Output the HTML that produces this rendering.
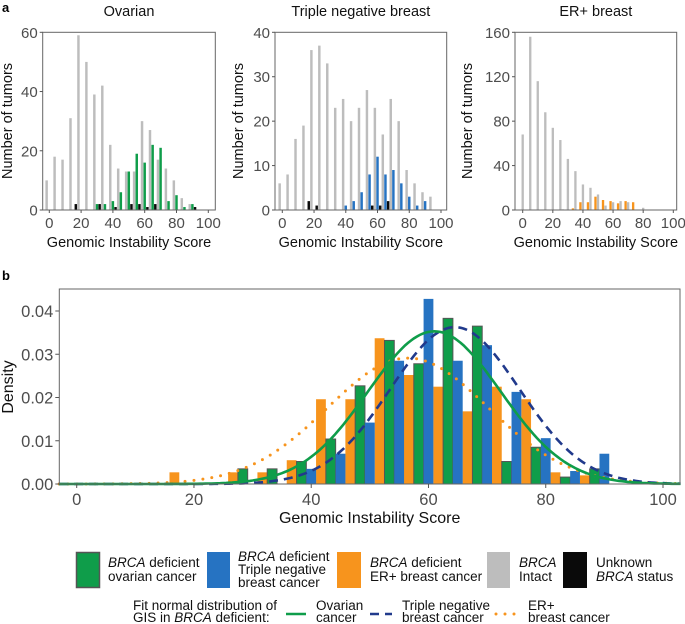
<!DOCTYPE html>
<html><head><meta charset="utf-8">
<style>
html,body{margin:0;padding:0;background:#fff;}
svg{display:block;font-family:"Liberation Sans",Arial,sans-serif;}
</style></head>
<body>
<svg id="fig" width="685" height="624" viewBox="0 0 685 624" xmlns="http://www.w3.org/2000/svg"></svg>
<script>
// ---- Panel a data (bins of 5 GIS, centers 0,5,...,95) ----
const binCenters = [0,5,10,15,20,25,30,35,40,45,50,55,60,65,70,75,80,85,90,95];
const ovGray  = [10,18,17,31,59,50,39,42,22,14,13,13,30,27,17,14,10,4,2,0];
const ovGreen = [0,0,0,0,0,0,2,2,3,6,13,19,16,22,21,3,5,1,2,0];
const ovBlack = [0,0,0,2,0,0,2,0,1,0,2,2,1,2,0,0,0,0,1,0];
const tnGray  = [6,8,16,19,36,37,33,23,25,20,23,27,23,17,25,20,9,6,4,3];
const tnBlue  = [0,0,0,0,0,0,0,0,1,2,4,8,12,8,9,6,3,1,2,0];
const tnBlack = [0,0,0,2,1,0,0,0,0,0,0,1,1,2,0,0,0,0,0,0];
const erGray  = [68,156,116,88,74,63,46,35,23,20,14,4,7,8,7,0,2,0,0,0];
const erOrange= [0,0,0,0,0,0,0,1.5,7,7,12,9,8,6,8,7,0,0,0,0];
const erBlack = [0,0,0,0,0,0.5,0,0,0,0,0,0,0,0,0,0,0,0,0,0];
const xTicksA = [0,20,40,60,80,100];
const ovYTicks = [0,20,40,60];
const tnYTicks = [0,10,20,30,40];
const erYTicks = [0,40,80,120,160];
// ---- Panel b data (density, groups starting at bin index 3) ----
const bBins   = [3,4,5,6,7,8,9,10,11,12,13,14,15,16,17];
const bOrange = [0.0027,0,0.0027,0.0027,0.0055,0.0196,0.0196,0.0337,0.0252,0.0225,0.0168,0.0225,0.0196,0.0027,0.002];
const bGreen  = [0,0,0.0035,0.0035,0.0052,0.0104,0.0227,0.0332,0.0278,0.0383,0.0365,0.0052,0.0085,0.0016,0.0035];
const bBlue   = [0,0,0,0,0.0035,0.007,0.0142,0.0285,0.0428,0.0285,0.0321,0.0213,0.0106,0.003,0.007];
const fitMeans = [61, 64.5, 56.5];
const fitSDs   = [11.3, 11.0, 13.7];
const xTicksB = [0,20,40,60,80,100];
const yTicksB = [0,0.01,0.02,0.03,0.04];

const NS="http://www.w3.org/2000/svg";
const svg=document.getElementById('fig');
function el(tag,attrs,parent){const e=document.createElementNS(NS,tag);for(const k in attrs)e.setAttribute(k,attrs[k]);(parent||svg).appendChild(e);return e;}
function txt(s,attrs,parent){const t=el('text',attrs,parent);t.textContent=s;return t;}
const C={green:'#0f9d4a',blue:'#2673c2',orange:'#f7941d',gray:'#bdbdbd',black:'#0a0a0a',navy:'#213a8c'};

function panelA(p){
  const g=el('g',{});
  
  
  const xs=v=>p.x0+(v/100)*(p.x100-p.x0);
  const ys=v=>p.bottom-(v/p.ymax)*(p.bottom-p.top);
  const bw=1.55*(p.x100-p.x0)/100;
  p.series.forEach(s=>{
    s.values.forEach((v,i)=>{
      if(v<=0)return;
      const cx=xs(binCenters[i]+s.off);
      const r=el('rect',{x:cx-bw/2,y:ys(v),width:bw,height:ys(0)-ys(v),fill:s.color},g);
      
      
    });
  });
  const fr=el('rect',{x:p.left,y:p.top,width:p.right-p.left,height:p.bottom-p.top,fill:'none',stroke:'#666','stroke-width':1},g);
  
  
  xTicksA.forEach(t=>{
    el('line',{x1:xs(t),x2:xs(t),y1:p.bottom,y2:p.bottom+3,stroke:'#555'},g);
    const l=txt(t,{x:xs(t),y:p.bottom+18,'font-size':15,fill:'#4d4d4d','text-anchor':'middle'},g);
    
    
  });
  p.yticks.forEach(t=>{
    el('line',{x1:p.left-3,x2:p.left,y1:ys(t),y2:ys(t),stroke:'#555'},g);
    const l=txt(t,{x:p.left-5,y:ys(t)+5.5,'font-size':15,fill:'#4d4d4d','text-anchor':'end'},g);
    
    
  });
  const ti=txt(p.title,{x:(p.left+p.right)/2,y:16,'font-size':14.5,fill:'#111','text-anchor':'middle'},g);
  
  
  const xt=txt('Genomic Instability Score',{x:(p.left+p.right)/2,y:247,'font-size':14.5,fill:'#111','text-anchor':'middle'},g);
  
  
  const yt=txt('Number of tumors',{x:0,y:0,'font-size':14.5,fill:'#111','text-anchor':'middle',transform:`translate(${p.ylx},121) rotate(-90)`},g);
  
  
}
const a=txt('a',{x:2,y:12,'font-size':13,'font-weight':'bold',fill:'#000'});


panelA({name:'ovarian-panel',title:'Ovarian',left:42.7,right:215.3,top:32.3,bottom:210,x0:49.3,x100:208.3,ymax:60,yticks:ovYTicks,ylx:12,
  series:[{name:'brca-intact',values:ovGray,color:C.gray,off:-1.67},{name:'ovarian-deficient',values:ovGreen,color:C.green,off:0},{name:'unknown-status',values:ovBlack,color:C.black,off:1.67}]});
panelA({name:'tnbc-panel',title:'Triple negative breast',left:275,right:446.7,top:32.3,bottom:210,x0:282.3,x100:441,ymax:40,yticks:tnYTicks,ylx:243,
  series:[{name:'brca-intact',values:tnGray,color:C.gray,off:-1.67},{name:'tnbc-deficient',values:tnBlue,color:C.blue,off:0},{name:'unknown-status',values:tnBlack,color:C.black,off:1.67}]});
panelA({name:'er-panel',title:'ER+ breast',left:515,right:676.7,top:32.3,bottom:210,x0:522.7,x100:673.3,ymax:160,yticks:erYTicks,ylx:472,
  series:[{name:'er-deficient',values:erOrange,color:C.orange,off:-1.67},{name:'brca-intact',values:erGray,color:C.gray,off:0},{name:'unknown-status',values:erBlack,color:C.black,off:1.67}]});

// ---- Panel b ----
const B={left:59.3,right:680,top:289,bottom:484,x0:76.7,x100:663,ymax:0.04,y4:311};
const bx=v=>B.x0+(v/100)*(B.x100-B.x0);
const by=v=>B.bottom-(v/B.ymax)*(B.bottom-B.y4);
const gb=el('g',{});


const bwB=1.67*(B.x100-B.x0)/100;
[[bOrange,C.orange,-1.67,'er-density-bar',null],[bGreen,C.green,0,'ovarian-density-bar','#555'],[bBlue,C.blue,1.67,'tnbc-density-bar',null]].forEach(([vals,col,off,nm,st])=>{
  vals.forEach((v,i)=>{
    if(v<=0)return;
    const c=bx(5*bBins[i]+3.33+off);
    const at={x:c-bwB/2,y:by(v),width:bwB,height:by(0)-by(v),fill:col};
    if(st){at.stroke=st;at['stroke-width']=1;}
    const r=el('rect',at,gb);
    
    
  });
});
function normPath(m,s){let d='';for(let x=-3;x<=103;x+=0.5){const y=Math.exp(-0.5*((x-m)/s)**2)/(s*Math.sqrt(2*Math.PI));d+=(d?'L':'M')+bx(x).toFixed(1)+','+by(y).toFixed(1);}return d;}
const c1=el('path',{d:normPath(fitMeans[2],fitSDs[2]),fill:'none',stroke:C.orange,'stroke-width':3,'stroke-dasharray':'0 9','stroke-linecap':'round'},gb);


const c2=el('path',{d:normPath(fitMeans[1],fitSDs[1]),fill:'none',stroke:C.navy,'stroke-width':2.6,'stroke-dasharray':'9 6'},gb);


const c3=el('path',{d:normPath(fitMeans[0],fitSDs[0]),fill:'none',stroke:C.green,'stroke-width':2.6},gb);


const fb=el('rect',{x:B.left,y:B.top,width:B.right-B.left,height:B.bottom-B.top,fill:'none',stroke:'#666','stroke-width':1},gb);


xTicksB.forEach(t=>{
  el('line',{x1:bx(t),x2:bx(t),y1:B.bottom,y2:B.bottom+4,stroke:'#555'},gb);
  const l=txt(t,{x:bx(t),y:B.bottom+21,'font-size':16.5,fill:'#4d4d4d','text-anchor':'middle'},gb);
  
  
});
yTicksB.forEach(t=>{
  el('line',{x1:B.left-4,x2:B.left,y1:by(t),y2:by(t),stroke:'#555'},gb);
  const l=txt(t.toFixed(2),{x:B.left-6,y:by(t)+6,'font-size':16.5,fill:'#4d4d4d','text-anchor':'end'},gb);
  
  
});
const bl=txt('b',{x:2,y:280,'font-size':13,'font-weight':'bold',fill:'#000'});


const bxt=txt('Genomic Instability Score',{x:(B.left+B.right)/2,y:523,'font-size':16,fill:'#111','text-anchor':'middle'},gb);


const byt=txt('Density',{x:0,y:0,'font-size':16,fill:'#111','text-anchor':'middle',transform:'translate(13,387) rotate(-90)'},gb);


</script>
<svg width="685" height="624" style="position:absolute;left:0;top:0" xmlns="http://www.w3.org/2000/svg" font-family="Liberation Sans, Arial, sans-serif" font-size="13.5" fill="#111">
  <rect x="76.5" y="552.5" width="23" height="35" fill="#0f9d4a" stroke="#555" stroke-width="1.5"/>
  <text x="108" y="567"><tspan font-style="italic">BRCA</tspan> deficient</text>
  <text x="108" y="581">ovarian cancer</text>
  <rect x="207" y="552" width="23" height="36" fill="#2673c2"/>
  <text x="238" y="561"><tspan font-style="italic">BRCA</tspan> deficient</text>
  <text x="238" y="574">Triple negative</text>
  <text x="238" y="587">breast cancer</text>
  <rect x="337" y="552" width="24" height="36" fill="#f7941d"/>
  <text x="370" y="567"><tspan font-style="italic">BRCA</tspan> deficient</text>
  <text x="370" y="581">ER+ breast cancer</text>
  <rect x="487" y="552" width="23" height="36" fill="#bdbdbd"/>
  <text x="519" y="567" font-style="italic">BRCA</text>
  <text x="519" y="581">Intact</text>
  <rect x="563" y="552" width="24" height="36" fill="#0a0a0a"/>
  <text x="596" y="567">Unknown</text>
  <text x="596" y="581"><tspan font-style="italic">BRCA</tspan> status</text>
  <text x="133" y="610">Fit normal distribution of</text>
  <text x="133" y="622">GIS in <tspan font-style="italic">BRCA</tspan> deficient:</text>
  <line x1="286" y1="614" x2="306" y2="614" stroke="#0f9d4a" stroke-width="2.6"/>
  <text x="316" y="610">Ovarian</text>
  <text x="316" y="622">cancer</text>
  <line x1="370" y1="614" x2="392" y2="614" stroke="#213a8c" stroke-width="2.6" stroke-dasharray="9 6"/>
  <text x="402" y="610">Triple negative</text>
  <text x="402" y="622">breast cancer</text>
  <line x1="496" y1="614" x2="518" y2="614" stroke="#f7941d" stroke-width="3" stroke-dasharray="0 9" stroke-linecap="round"/>
  <text x="528" y="610">ER+</text>
  <text x="528" y="622">breast cancer</text>
</svg>
</body></html>
